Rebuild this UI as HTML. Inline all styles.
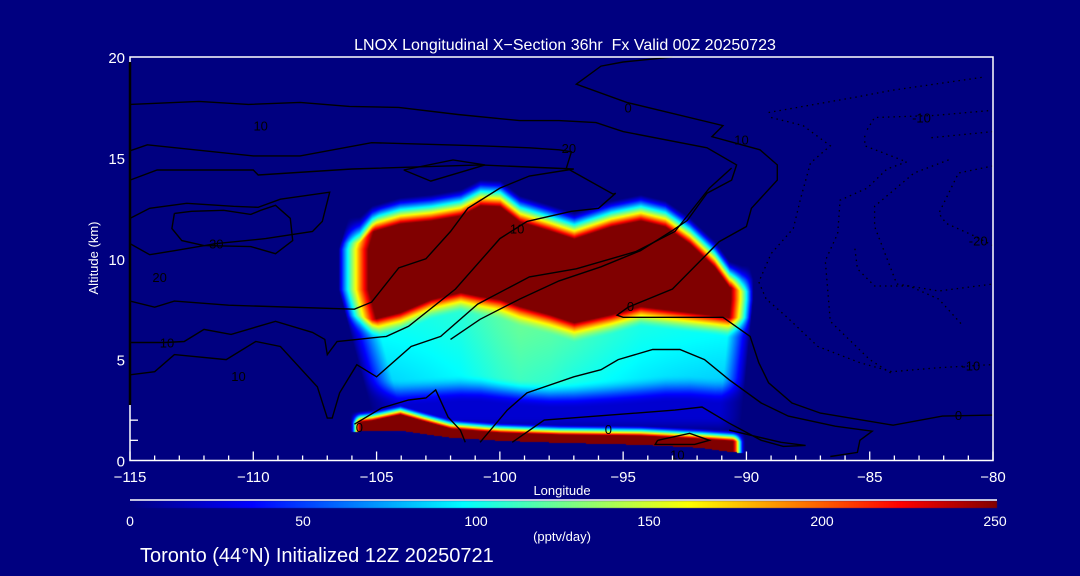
<!DOCTYPE html>
<html><head><meta charset="utf-8"><style>
html,body{margin:0;padding:0;background:#000080;width:1080px;height:576px;overflow:hidden}
#wrap{position:relative;width:1080px;height:576px}
canvas,svg{position:absolute;left:0;top:0}
text{font-family:"Liberation Sans",sans-serif;fill:#fff}
</style></head><body>
<div id="wrap">
<canvas id="heat" width="1080" height="576"></canvas>
<svg id="svg" width="1080" height="576"></svg>
</div>
<script>
// ---- heatmap data: upper anvil band per longitude ----
const upLon = [-105.7,-105.2,-104.05,-102.8,-101.6,-100.8,-100,-99.2,-98,-97,-95.5,-94.3,-93.3,-92.3,-91.3,-90.7,-90.2];
const upRedTop = [10.8,11.35,11.75,11.9,12.15,12.65,12.6,11.85,11.4,11.0,11.6,11.9,11.6,10.75,9.6,8.6,8.4];
const upRedBot = [7.2,7.0,7.35,8.0,8.35,8.15,8.0,7.65,7.25,6.85,7.25,7.65,7.5,7.35,7.2,7.1,7.1];
const midVal = [92,95,98,102,106,112,118,122,118,112,106,102,100,98,96,95,94];
const cyanBot = [4.3,4.2,4.1,4.2,4.3,4.3,4.2,4.1,4.0,4.0,4.1,4.2,4.3,4.3,4.2,4.2,4.2];
// ---- lower band ----
const lowLon = [-105.9,-105.2,-104.05,-103.2,-102,-100,-97.6,-94.3,-91.9,-90.7,-90.2];
const lowRedTop = [1.9,2.0,2.3,2.0,1.6,1.4,1.3,1.25,1.1,1.0,0.95];
const lowRedBot = [1.45,1.5,1.5,1.35,1.15,1.0,0.9,0.8,0.65,0.45,0.4];
// colour bar
const cbTicks = [0,50,100,150,200,250];
const xTicks = [-115,-110,-105,-100,-95,-90,-85,-80];
const yTicks = [0,5,10,15,20];
// contours [lon,alt]
const contours = [
 {lvl:"0",dash:false,pts:[[-93,20],[-95,19.75],[-95.9,19.55],[-96.9,18.65],[-94.85,17.75],[-90.95,16.6],[-91.4,16.05],[-89.45,15.4],[-88.75,14.65],[-88.75,13.9],[-89.8,12.5],[-90,11.6],[-91.1,10.85],[-93,8.5],[-94.8,7.6],[-95.25,7.2],[-95,7.1],[-90.95,7.1],[-89.85,6.15],[-89.5,4.85],[-89.1,3.85],[-88.15,2.85],[-87,2.35],[-84.05,1.75],[-82.05,2.2],[-80,2.25]]},
 {lvl:"top",dash:false,pts:[[-115,17.65],[-112.2,17.8],[-110.2,17.65],[-108.1,17.75],[-106.1,17.55],[-104.1,17.5],[-101.7,17.15],[-99.2,16.85],[-97.6,16.85],[-96.1,16.75],[-95,16.3],[-91.6,15.5],[-90.4,14.65],[-90.6,13.9],[-91.6,13.25],[-92.4,11.9],[-93,11.4],[-94.3,10.4],[-95.9,9.6],[-97.6,8.9],[-99.2,8.0],[-100.8,7.0],[-102,6.0]]},
 {lvl:"10",dash:false,pts:[[-115,5.85],[-113.6,5.85],[-112.8,5.9],[-112,6.5],[-110.9,6.25],[-109.1,6.9],[-107.6,6.35],[-107.1,6.0],[-107,5.25],[-106.6,5.9],[-104.6,6.15],[-103.7,6.65],[-101.8,8.5],[-100,11.0],[-98.9,11.85],[-97.1,12.35],[-96,12.5],[-95.3,13.25],[-95.4,13.2],[-97.3,14.5],[-97.1,15.3],[-97.6,15.4],[-98.8,15.5],[-100.8,15.6],[-105.2,15.75],[-108.1,15.1],[-110,15.1],[-114.3,15.65],[-115,15.35]]},
 {lvl:"15",dash:false,pts:[[-115,7.9],[-114,7.6],[-113.2,7.9],[-111,7.7],[-105.9,7.5],[-105.2,7.85],[-104.1,9.55],[-103,10.0],[-102,11.35],[-101.3,12.5],[-100,13.5],[-98.8,14.1],[-97,14.45],[-100.8,14.65],[-106,14.45],[-109.8,14.15],[-110,14.4],[-113.9,14.4],[-115,13.9]]},
 {lvl:"20",dash:false,pts:[[-115,12.0],[-114.2,12.5],[-112.7,12.75],[-110.8,12.6],[-109.8,12.55],[-108.9,12.95],[-106.9,13.3],[-107.2,11.85],[-107.6,11.35],[-109.5,11.0],[-111.5,10.75],[-113.2,10.4],[-114.2,10.2],[-115,10.75]]},
 {lvl:"30",dash:false,pts:[[-113.2,12.25],[-113.3,11.5],[-112.9,10.9],[-112,10.65],[-110.1,10.6],[-109.1,10.25],[-108.4,10.9],[-108.5,12.0],[-109.1,12.65],[-109.7,12.4],[-110.1,12.2],[-111.2,12.4],[-112.5,12.35],[-113.2,12.25]]},
 {lvl:"20b",dash:false,pts:[[-103.9,14.4],[-102.8,13.85],[-100.6,14.65],[-101.9,14.9],[-103.9,14.4]]},
 {lvl:"5",dash:false,pts:[[-115,4.25],[-114,4.4],[-113.2,5.25],[-111.1,5.0],[-109.9,5.9],[-108.9,5.65],[-107.4,3.65],[-107,2.1],[-106.8,2.1],[-106.5,3.35],[-105.8,4.75],[-105,4.15],[-103.6,5.65],[-102.4,6.15],[-100.9,7.75],[-98.8,9.1],[-96.9,9.5],[-94.5,10.35],[-92.9,11.35],[-91.5,13.5],[-90.6,14.5]]},
 {lvl:"0b",dash:false,pts:[[-105.9,1.8],[-104.8,2.6],[-103.7,3.0],[-103,3.1],[-102.6,3.5],[-102.1,2.15],[-101.6,1.5],[-101.4,0.9]]},
 {lvl:"0c",dash:false,pts:[[-100.8,0.9],[-99.7,2.5],[-98.9,3.35],[-97,4.15],[-95.9,4.5],[-95.2,5.0],[-93.8,5.5],[-92.7,5.5],[-91.7,5.0],[-90.7,4.0],[-89.4,2.85],[-88.3,2.2],[-86.4,1.7],[-84.9,1.45],[-85.4,1.0],[-85.5,0.4],[-86.6,0.2]]},
 {lvl:"0d",dash:false,pts:[[-99.5,0.9],[-98.2,2.0],[-92.9,2.5],[-91.8,2.65],[-90.7,1.85],[-89.4,1.0],[-88.5,0.7],[-87.6,0.75],[-88.6,0.9],[-90.7,1.5]]},
 {lvl:"0e",dash:false,pts:[[-93.6,1.0],[-93.7,0.8],[-92.1,0.8],[-91.5,1.0],[-92.3,1.35],[-93.6,1.0]]},
 {lvl:"-10a",dash:true,pts:[[-89.1,17.25],[-85.6,18.0],[-84.1,18.35],[-80.4,19.0]]},
 {lvl:"-10",dash:true,pts:[[-89,17.0],[-87.7,16.6],[-86.6,15.6],[-87.4,14.75],[-87.8,13.0],[-88.1,11.5],[-89,10.25],[-89.5,8.85],[-89.2,8.0],[-88.4,7.15],[-87.1,5.65],[-85.4,4.85],[-84.1,4.4],[-82.2,4.6],[-80.1,4.75]]},
 {lvl:"-10b",dash:true,pts:[[-85.1,16.4],[-84.8,17.0],[-82.4,17.1],[-80.1,17.35]]},
 {lvl:"-15",dash:true,pts:[[-85.2,16.1],[-85.2,15.6],[-83.5,14.8],[-84.3,14.45],[-85.1,13.5],[-86.2,12.9],[-86.3,11.25],[-86.8,9.9],[-86.7,8.4],[-86.6,6.9],[-85,5.0],[-84.1,4.3]]},
 {lvl:"-15b",dash:true,pts:[[-82.5,16.0],[-80,16.3]]},
 {lvl:"-20o",dash:true,pts:[[-81.8,14.9],[-83.2,14.25],[-84.8,12.6],[-84.8,11.6],[-83.9,8.75],[-82.2,8.4],[-80,8.75]]},
 {lvl:"-20",dash:true,pts:[[-80,14.6],[-81.4,14.25],[-82.2,12.25],[-81.9,11.75],[-80.8,11.15],[-80,10.65]]},
 {lvl:"-20i",dash:true,pts:[[-85.6,10.5],[-85.5,9.5],[-84.8,8.65],[-83.4,8.65],[-82.2,8.0],[-81.2,6.65]]}
];
const contourLabels = [["0",-94.8,17.5],["0",-94.7,7.65],["0",-81.4,2.25],["10",-99.3,11.5],["10",-113.5,5.85],["20",-113.8,9.1],["20",-97.2,15.5],["30",-111.5,10.75],["10",-109.7,16.6],["0",-105.7,1.65],["0",-95.6,1.55],["10",-92.8,0.3],["-10",-82.9,17.0],["-10",-80.9,4.7],["-20",-80.6,10.9],["10",-110.6,4.2],["10",-90.2,15.9]];

// ---- axes ----
const X0=130, X1=993, Y0=460.5, Y1=57;
const xs = lon => X0 + (lon+115)/35*(X1-X0);
const ys = alt => Y0 - alt/20*(Y0-Y1);
const interp = (xa, ya, v) => {
  if (v<=xa[0]) return ya[0];
  for (let i=1;i<xa.length;i++) if (v<=xa[i]) { const t=(v-xa[i-1])/(xa[i]-xa[i-1]); return ya[i-1]+t*(ya[i]-ya[i-1]); }
  return ya[ya.length-1];
};
function jet(v){
  const st=[[0,0,0,128],[35,0,0,255],[96,0,255,255],[128,128,255,128],[161,255,255,0],[222,255,0,0],[250,128,0,0]];
  v=Math.max(0,Math.min(250,v));
  for(let i=1;i<st.length;i++) if(v<=st[i][0]){const a=st[i-1],b=st[i],t=(v-a[0])/(b[0]-a[0]);return [a[1]+t*(b[1]-a[1]),a[2]+t*(b[2]-a[2]),a[3]+t*(b[3]-a[3])];}
  return [128,0,0];
}
const sm = t => { t=Math.max(0,Math.min(1,t)); return t*t*(3-2*t); };
const lin = t => Math.max(0,Math.min(1,t));
// draw heatmap
(function(){
  const c=document.getElementById('heat').getContext('2d');
  c.fillStyle='#000080'; c.fillRect(0,0,1080,576);
  const img=c.getImageData(0,0,1080,576);
  for(let px=Math.floor(xs(-107)); px<=Math.ceil(xs(-89.3)); px++){
    const lon=-115+(px-X0)/(X1-X0)*35;
    const rt=interp(upLon,upRedTop,lon), rb=interp(upLon,upRedBot,lon), mv=interp(upLon,midVal,lon), cb=interp(upLon,cyanBot,lon);
    const lt=interp(lowLon,lowRedTop,lon), lb=interp(lowLon,lowRedBot,lon);
    const envL = sm((lon+106.1)/0.45)*sm((-90.05-lon)/0.55);
    for(let py=Math.ceil(Y1); py<Y0; py++){
      const a=(Y0-py)/(Y0-Y1)*20;
      const le = -106.55 + 0.22*Math.max(0,8.5-a) + 0.25*Math.max(0,a-10.5);
      const re = -89.75 - 0.08*Math.max(0,8-a) - 0.2*Math.max(0,a-9);
      const envU = Math.pow(lin((lon-le)/1.2),0.8)*Math.pow(lin((re-lon)/0.9),0.8);
      let v=0;
      if(a>rt+1.3) v=0;
      else if(a>rt) v=250*Math.pow(1-(a-rt)/1.3,1.2);
      else if(a>=rb) v=250;
      else if(a>=rb-1.0) v=mv+(250-mv)*Math.pow((a-(rb-1.0))/1.0,1.6);
      else if(a>=cb) v=mv-10*(1-(a-cb)/Math.max(0.1,rb-1-cb));
      else if(a>=cb-1.4) v=22+(mv-32)*sm((a-(cb-1.4))/1.4);
      else v=22*sm((a-1.2)/1.0);
      v*=envU;
      let w=0;
      if(a<=lt && a>=lb) w=250;
      else if(a>lt && a<lt+0.55) w=250*Math.pow(1-(a-lt)/0.55,1.4);
      w*=envL;
      if(a<lb) w=0;
      const val=Math.max(v,w);
      if(val<=0.5) continue;
      const col=jet(val), k=(py*1080+px)*4;
      img.data[k]=col[0]; img.data[k+1]=col[1]; img.data[k+2]=col[2];
    }
  }
  // colour bar
  const cx0=130, cx1=997;
  for(let px=cx0; px<cx1; px++){
    const col=jet((px-cx0)/(cx1-cx0)*250);
    for(let py=501; py<508; py++){const k=(py*1080+px)*4; img.data[k]=col[0]; img.data[k+1]=col[1]; img.data[k+2]=col[2];}
  }
  c.putImageData(img,0,0);
})();

// ---- SVG overlay ----
const svg=document.getElementById('svg'), NS='http://www.w3.org/2000/svg';
function mk(tag, attrs, parent){ const e=document.createElementNS(NS,tag); for(const k in attrs) e.setAttribute(k,attrs[k]); (parent||svg).appendChild(e); return e; }
contours.forEach(cn=>{
  const p=mk('polyline',{points:cn.pts.map(q=>xs(q[0]).toFixed(1)+','+ys(q[1]).toFixed(1)).join(' '),fill:'none',stroke:'#000','stroke-width':cn.dash?1.3:1.4,'stroke-dasharray':cn.dash?'1.5 4':'none'});
  
  
});
contourLabels.forEach(l=>{
  const t=mk('text',{x:xs(l[1]),y:ys(l[2])+5,'font-size':13,'text-anchor':'middle',style:'fill:#000'});
  t.textContent=l[0];
  
  
});
const fr=mk('rect',{x:X0,y:Y1,width:X1-X0,height:Y0-Y1,fill:'none',stroke:'#fff','stroke-width':1.5});


const bl=mk('line',{x1:X0,y1:62,x2:X0,y2:405,stroke:'#000','stroke-width':2.5});


for(let lon=-115; lon<=-80; lon++){
  const major = lon%5===0;
  const t=mk('line',{x1:xs(lon),x2:xs(lon),y1:Y0,y2:Y0-(major?9:5),stroke:'#fff','stroke-width':1.3});
  
  
}
xTicks.forEach(v=>{
  const t=mk('text',{x:xs(v),y:482,'font-size':15,'text-anchor':'middle'});
  t.textContent=(v<0?'\u2212':'')+Math.abs(v);
  
  
});
[1,2].forEach(v=>{
  const t=mk('line',{x1:X0,x2:X0+8,y1:ys(v),y2:ys(v),stroke:'#fff','stroke-width':1.3});
  
  
});
yTicks.forEach(v=>{
  const t=mk('text',{x:125,y:ys(v)+6,'font-size':15,'text-anchor':'end'});
  t.textContent=v;
  
  
});
const cbl=mk('line',{x1:130,x2:997,y1:500,y2:500,stroke:'#fff','stroke-width':1.5});


cbTicks.forEach(v=>{
  const t=mk('text',{x:130+v/250*865,y:526,'font-size':14,'text-anchor':'middle'});
  t.textContent=v;
  
  
});
</script>
<svg width="1080" height="576" style="position:absolute;left:0;top:0">
<text x="565" y="50" font-size="16" text-anchor="middle" xml:space="preserve" style="white-space:pre">LNOX Longitudinal X−Section 36hr  Fx Valid 00Z 20250723</text>
<text x="98" y="258" font-size="13" text-anchor="middle" transform="rotate(-90 98 258)">Altitude (km)</text>
<text x="562" y="495" font-size="13" text-anchor="middle">Longitude</text>
<text x="562" y="541" font-size="13" text-anchor="middle">(pptv/day)</text>
<text x="140" y="562" font-size="20">Toronto (44°N) Initialized 12Z 20250721</text>
</svg>
</body></html>
